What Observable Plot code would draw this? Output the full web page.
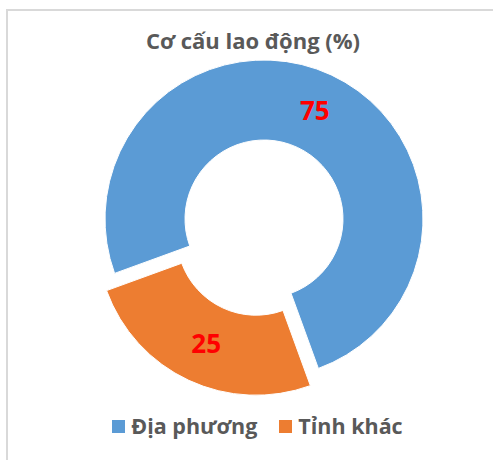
<!DOCTYPE html>
<html><head><meta charset="utf-8">
<script src="https://cdn.jsdelivr.net/npm/d3@7"></script>
<script src="https://cdn.jsdelivr.net/npm/@observablehq/plot@0.6"></script>
<style>
body{margin:0;background:#fff;font-family:"Open Sans",sans-serif;width:493px;height:460px;overflow:hidden;position:relative;}
#frame{position:absolute;left:6px;top:9px;width:600px;height:600px;border-top:2px solid #d9d9d9;border-left:2px solid #d9d9d9;box-sizing:border-box;}
#title{position:absolute;left:0;top:26px;width:506px;text-align:center;font-weight:bold;font-size:22px;color:#595959;line-height:28px;}
#chart{position:absolute;left:0;top:55px;}
#legend{position:absolute;left:0;top:412px;width:515px;display:flex;justify-content:center;align-items:center;gap:22px;font-weight:bold;font-size:21.5px;color:#595959;line-height:28px;}
#legend .item{display:flex;align-items:center;gap:6px;}
#legend .sw{width:13px;height:13px;display:inline-block;}
</style></head>
<body>
<div id="frame"></div>
<div id="title">Cơ cấu lao động (%)</div>
<div id="chart"></div>
<div id="legend"></div>
<script>
const categories = ["Địa phương", "Tỉnh khác"];
const values = [75, 25];
const colors = ["#5B9BD5", "#ED7D31"];
const explodedCategory = "Tỉnh khác";

const W = 493, H = 355, CX = 264, CY = 164;
const R = 159, RIN = 79, EXPL = 19, START = 250;

const color = Plot.scale({color: {type: "ordinal", domain: categories, range: colors}});

const pie = d3.pie().sort(null).value(d => d.value)
  .startAngle(START * Math.PI / 180).endAngle((START + 360) * Math.PI / 180);
const slices = pie(categories.map((c, i) => ({category: c, value: values[i]}))).map(a => {
  const mid = (a.startAngle + a.endAngle) / 2;
  const off = a.data.category === explodedCategory ? EXPL : 0;
  const lr = off + (R + RIN) / 2;
  return {
    category: a.data.category, value: a.data.value,
    a0: a.startAngle, a1: a.endAngle,
    ox: off * Math.sin(mid), oy: off * Math.cos(mid),
    lx: lr * Math.sin(mid), ly: lr * Math.cos(mid)
  };
});

function donut(index, scales) {
  const k = scales.x(1) - scales.x(0);
  const arc = d3.arc().innerRadius(RIN * k).outerRadius(R * k);
  const g = d3.create("svg:g");
  g.selectAll("path").data(slices).join("path")
    .attr("transform", d => `translate(${scales.x(d.ox)},${scales.y(d.oy)})`)
    .attr("d", d => arc({startAngle: d.a0, endAngle: d.a1}))
    .attr("fill", d => color.apply(d.category))
    .attr("stroke", "#fff").attr("stroke-width", 1);
  return g.node();
}

const chart = Plot.plot({
  width: W, height: H,
  margin: 0,
  x: {domain: [-CX, W - CX], range: [0, W], axis: null},
  y: {domain: [-(H - CY), CY], range: [H, 0], axis: null},
  style: {background: "transparent"},
  marks: [
    donut,
    Plot.text(slices, {x: "lx", y: "ly", text: d => String(d.value), fill: "#FF0000",
      fontSize: 26, fontWeight: "bold", fontFamily: "Open Sans"})
  ]
});
document.getElementById("chart").appendChild(chart);

const legend = document.getElementById("legend");
categories.forEach(c => {
  const it = document.createElement("div"); it.className = "item";
  const sw = document.createElement("span"); sw.className = "sw"; sw.style.background = color.apply(c);
  const tx = document.createElement("span"); tx.textContent = c;
  it.appendChild(sw); it.appendChild(tx); legend.appendChild(it);
});
</script>
</body></html>
